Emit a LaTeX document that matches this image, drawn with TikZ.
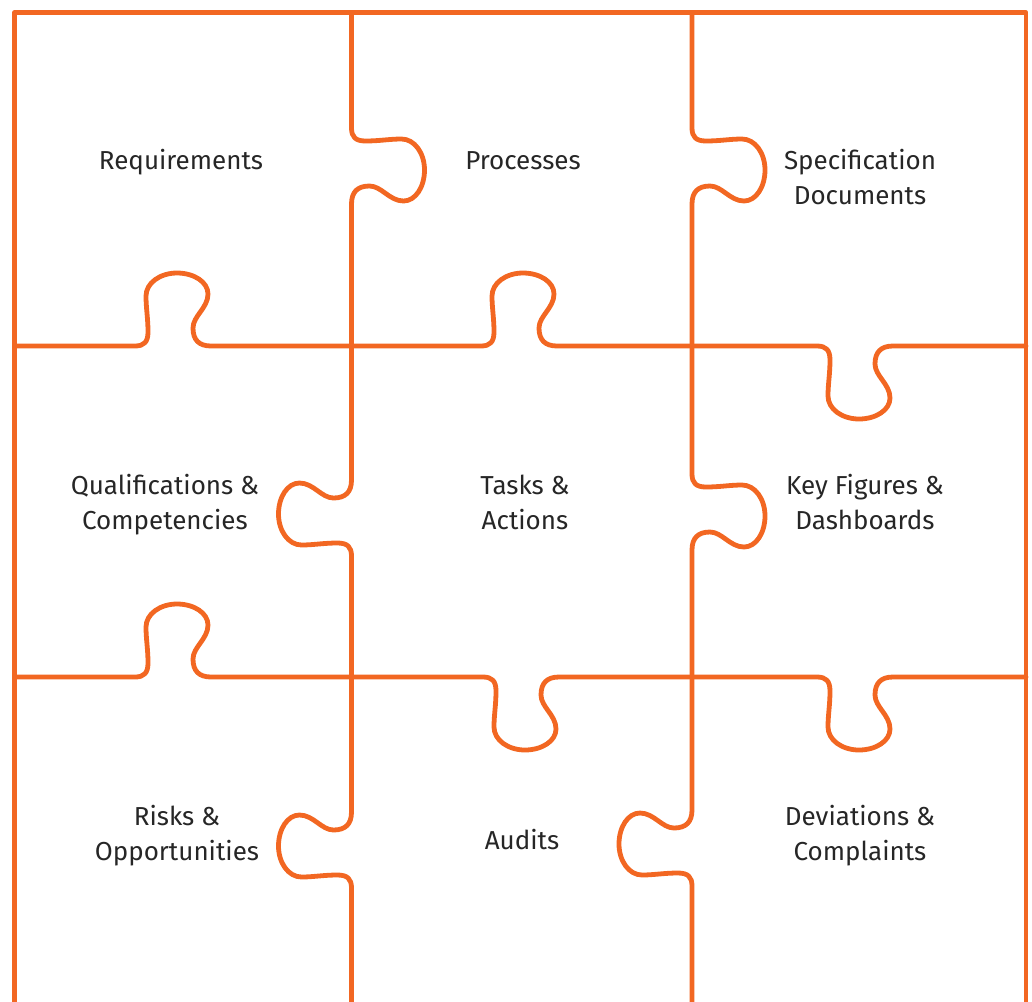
\documentclass[tikz,border=0pt]{standalone}
\usepackage{fontspec}
\setmainfont{Fira Sans}
\definecolor{puzzleorange}{RGB}{242,103,34}
\definecolor{labelgray}{RGB}{38,38,38}
\tikzset{
  puzzleline/.style={draw=puzzleorange, line width=3.6pt, line cap=round, line join=round},
  label text/.style={text=labelgray, font=\fontsize{19.5}{26.25}\selectfont, align=center, anchor=base, inner sep=0pt},
  % local frames for a tab: first axis runs along the edge, second axis points into the knob
  tabup/.style={x={(0.75pt,0pt)}, y={(0pt,0.75pt)}},
  tabdown/.style={x={(0.75pt,0pt)}, y={(0pt,-0.75pt)}},
  tabright/.style={x={(0pt,-0.75pt)}, y={(0.75pt,0pt)}},
  tableft/.style={x={(0pt,0.75pt)}, y={(-0.75pt,0pt)}},
}
% one edge piece: #1,#2 knob centre; #3 frame; #4 length before, #5 length after the knob centre
\newcommand\puzzleedge[5]{%
  \begin{scope}[shift={(#1,#2)}, #3]
    \draw[puzzleline] (-#4,0) -- (-42,0)
      .. controls (-33,0) and (-29,4) .. (-29,14)
      .. controls (-29,28) and (-31,38) .. (-31,50)
      .. controls (-31,63) and (-17,73) .. (0,73)
      .. controls (17,73) and (31,64) .. (31,52)
      .. controls (31,38) and (16,30) .. (16,18)
      .. controls (16,6) and (22,0) .. (34,0)
      -- (#5,0);
  \end{scope}}
\begin{document}
\begin{tikzpicture}[x=0.75pt, y=-0.75pt]
  \useasboundingbox (0,0) rectangle (1032,1001);
  \clip (0,0) rectangle (1032,1001);

  % outer frame (open at the bottom)
  \draw[puzzleline] (14.5,1012) -- (14.5,12.5) -- (1026,12.5) -- (1026,1012);

  % vertical seams
  \puzzleedge{351.5}{170}{tabright}{157.5}{176}
  \puzzleedge{351.5}{514}{tableft}{163}{168}
  \puzzleedge{351.5}{846}{tableft}{166}{169}
  \puzzleedge{692}{170}{tabright}{157.5}{176}
  \puzzleedge{692}{516}{tabright}{170}{161}
  \puzzleedge{692}{844}{tableft}{168}{167}

  % horizontal seams
  \puzzleedge{177}{346}{tabup}{162.5}{174.5}
  \puzzleedge{523}{346}{tabup}{171.5}{169}
  \puzzleedge{859}{346}{tabdown}{167}{167}
  \puzzleedge{177}{677}{tabup}{162.5}{174.5}
  \puzzleedge{525}{677}{tabdown}{173.5}{167}
  \puzzleedge{859}{677}{tabdown}{167}{167}

  % piece labels (two-line labels sit on the baseline of their last line)
  \node[label text] (req) at (181,169) {Requirements};
  \node[label text] (proc) at (523,169) {Processes};
  \node[label text] (spec) at (860,204) {Specification\\Documents};
  \node[label text] (qual) at (165,529) {Qualifications \&\\Competencies};
  \node[label text] (task) at (525,529) {Tasks \&\\Actions};
  \node[label text] (kpi) at (865,529) {Key Figures \&\\Dashboards};
  \node[label text] (risk) at (177,860) {Risks \&\\Opportunities};
  \node[label text] (audit) at (522,849) {Audits};
  \node[label text] (dev) at (860,860) {Deviations \&\\Complaints};
\end{tikzpicture}
\end{document}
